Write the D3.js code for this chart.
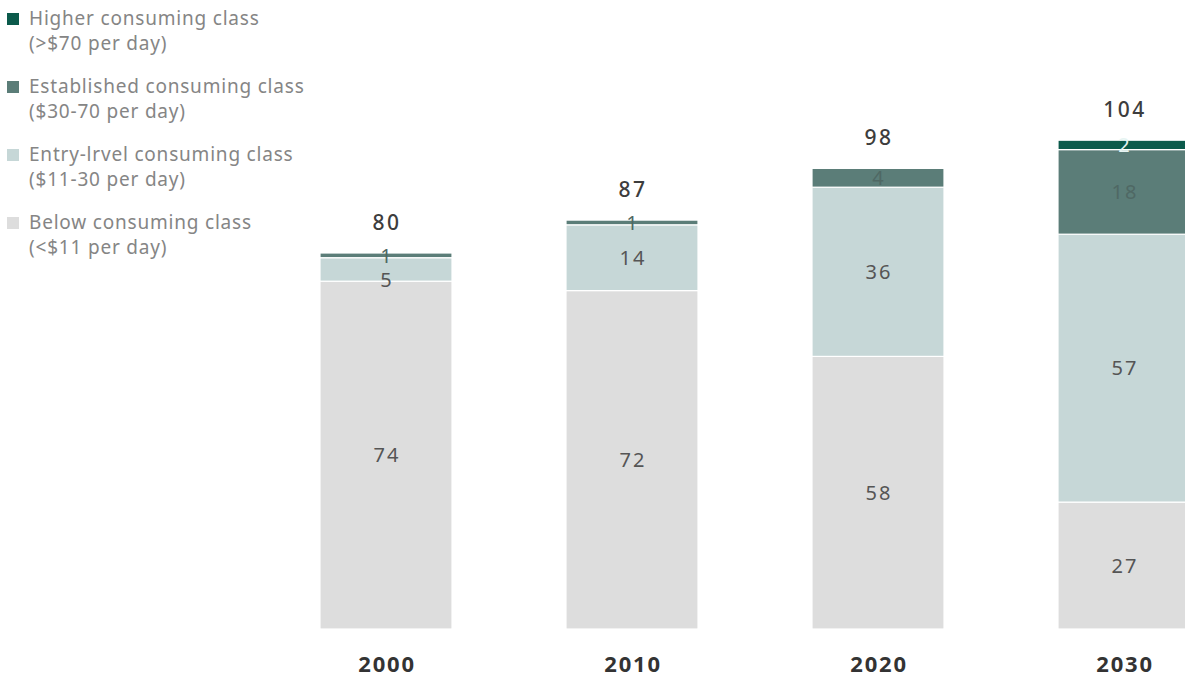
<!DOCTYPE html>
<html>
<head>
<meta charset="utf-8">
<script src="https://cdn.jsdelivr.net/npm/d3@7"></script>
<style>
  html, body { margin: 0; padding: 0; background: #ffffff; }
  svg { display: block; font-family: "Noto Sans", "Open Sans", sans-serif; }
</style>
</head>
<body>
<svg id="chart" width="1185" height="679"></svg>
<script>
// Consuming-class population (millions) by year
const years = ["2000", "2010", "2020", "2030"];
const below = [74, 72, 58, 27];
const entry = [5, 14, 36, 57];
const established = [1, 1, 4, 18];
const higher = [0, 0, 0, 2];
const totals = [80, 87, 98, 104];

const seriesKeys = ["below", "entry", "established", "higher"];
const legendTitles = [
  ["Higher consuming class", "(>$70 per day)"],
  ["Established consuming class", "($30-70 per day)"],
  ["Entry-lrvel consuming class", "($11-30 per day)"],
  ["Below consuming class", "(<$11 per day)"]
];
const legendKeys = ["higher", "established", "entry", "below"];

const fills = {
  below: "#dddddd",
  entry: "#c6d7d7",
  established: "#5b7d78",
  higher: "#0b5a4b"
};
const labelColors = {
  below: "#555555",
  entry: "#555555",
  established: "#4f6864",
  higher: "#e6f4f2"
};

const rows = years.map((y, i) => ({
  year: y,
  below: below[i],
  entry: entry[i],
  established: established[i],
  higher: higher[i],
  total: totals[i]
}));

const svg = d3.select("#chart");

const x = d3.scaleBand()
  .domain(years)
  .range([320, 1190])
  .paddingInner(0.4634)
  .paddingOuter(0);

const y = d3.scaleLinear()
  .domain([0, 104])
  .range([629, 629 - 104 * 4.7]);

const stack = d3.stack().keys(seriesKeys);
const layers = stack(rows);

const g = svg.append("g");

// Segments
layers.forEach(layer => {
  const key = layer.key;
  g.append("g").attr("class", "layer-" + key)
    .selectAll("rect")
    .data(layer.filter(d => d[1] - d[0] > 0))
    .join("rect")
    .attr("x", d => x(d.data.year))
    .attr("width", x.bandwidth())
    .attr("y", d => y(d[1]))
    .attr("height", d => y(d[0]) - y(d[1]))
    .attr("fill", fills[key])
    .attr("stroke", "#ffffff")
    .attr("stroke-width", 1.2);
});

// Segment value labels, centred; a label crowding the one above is nudged down
const minGap = 24;
const labelData = [];
years.forEach((yr, i) => {
  let prevY = -Infinity;
  for (let k = seriesKeys.length - 1; k >= 0; k--) {
    const seg = layers[k][i];
    const v = seg[1] - seg[0];
    if (v <= 0) continue;
    let cy = (y(seg[0]) + y(seg[1])) / 2;
    if (cy - prevY < minGap) cy = prevY + minGap;
    prevY = cy;
    labelData.push({ year: yr, key: seriesKeys[k], value: v, cy });
  }
});

g.append("g").selectAll("text")
  .data(labelData)
  .join("text")
  .attr("x", d => x(d.year) + x.bandwidth() / 2 + 1)
  .attr("y", d => d.cy)
  .attr("dy", "0.36em")
  .attr("text-anchor", "middle")
  .attr("font-size", 20)
  .attr("letter-spacing", 2)
  .attr("fill", d => labelColors[d.key])
  .text(d => d.value);

// Totals above each bar
g.selectAll("text.total")
  .data(rows)
  .join("text")
  .attr("class", "total")
  .attr("x", d => x(d.year) + x.bandwidth() / 2 + 1)
  .attr("y", d => y(d.total) - 31)
  .attr("dy", "0.36em")
  .attr("text-anchor", "middle")
  .attr("font-size", 21)
  .attr("font-weight", 500)
  .attr("letter-spacing", 2.5)
  .attr("fill", "#3d3d3d")
  .text(d => d.total);

// Year axis along the bottom
const xAxis = d3.axisBottom(x).tickSize(0).tickPadding(0);
const axisG = svg.append("g")
  .attr("transform", "translate(0,664)")
  .call(xAxis);
axisG.select(".domain").remove();
axisG.selectAll("text")
  .attr("dy", "0.36em")
  .attr("dx", "0.05em")
  .attr("font-size", 22)
  .attr("font-weight", 700)
  .attr("letter-spacing", 1.8)
  .attr("font-family", "\"Noto Sans\", \"Open Sans\", sans-serif")
  .attr("fill", "#333333");

// Legend
const legend = svg.append("g");
legendKeys.forEach((k, i) => {
  const top = 25 + i * 68;
  legend.append("rect")
    .attr("x", 7)
    .attr("y", top - 12)
    .attr("width", 12)
    .attr("height", 12)
    .attr("fill", fills[k]);
  legendTitles[i].forEach((line, j) => {
    legend.append("text")
      .attr("x", 29)
      .attr("y", top + j * 25)
      .attr("font-size", 19)
      .attr("letter-spacing", 0.8)
      .attr("fill", "#858585")
      .text(line);
  });
});
</script>
</body>
</html>
